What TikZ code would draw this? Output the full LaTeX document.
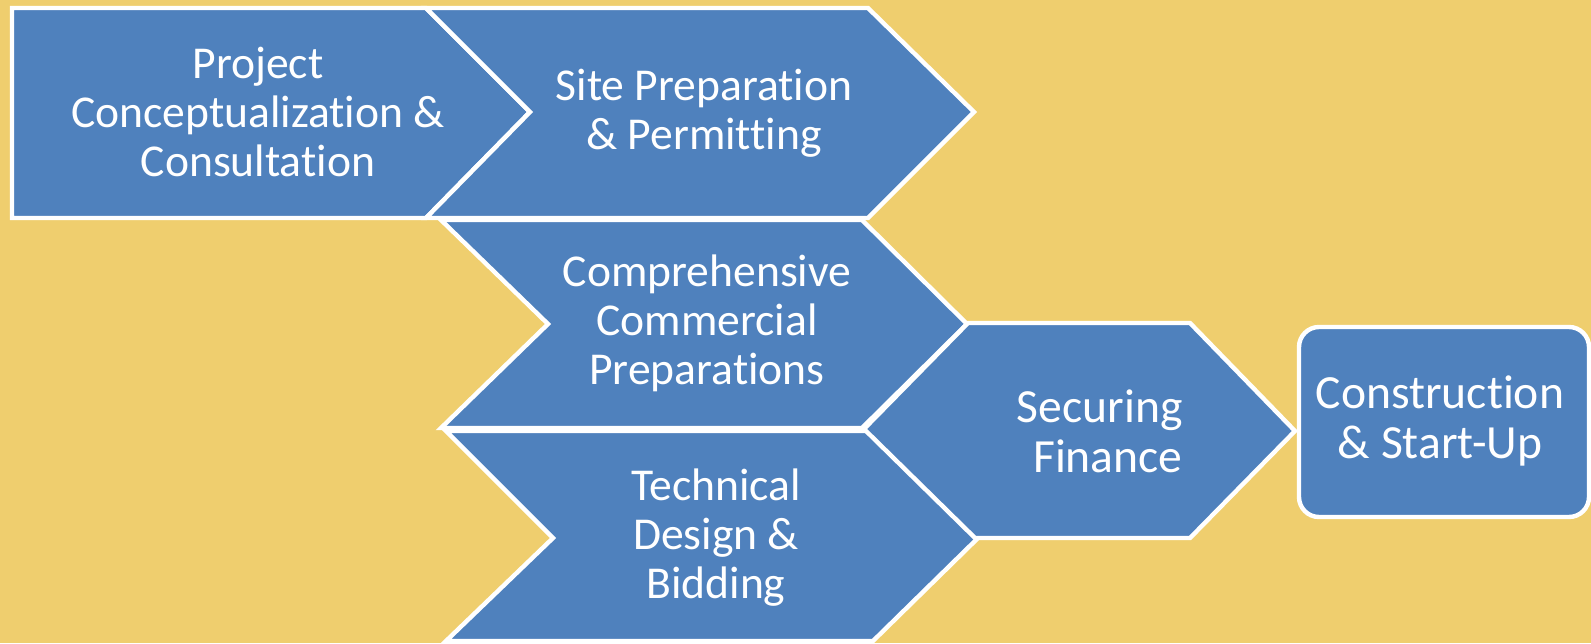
\documentclass[tikz,border=0pt]{standalone}
\usepackage{fontspec}
\setmainfont[Ligatures={NoCommon}]{Carlito}
\definecolor{bg}{RGB}{239,206,110}
\definecolor{blu}{RGB}{79,129,189}
\begin{document}
\begin{tikzpicture}[x=0.5pt,y=-0.5pt,
  shp/.style={fill=blu,draw=white,line width=2.2pt,line join=miter},
  lbl/.style={text=white,align=center,inner sep=0pt,font=\fontsize{22.8}{24.5}\selectfont},
  lblb/.style={lbl,font=\fontsize{23.8}{25}\selectfont}]
\fill[bg] (0,0) rectangle (1591,643);
\useasboundingbox (0,0) rectangle (1591,643);
% 1
\draw[shp] (12,8) -- (426,8) -- (530,112) -- (426,218) -- (12,218) -- cycle;
\node[lbl] (n1) at (258,112) {Project\\Conceptualization \&\\Consultation};
% 2
\draw[shp] (426,8) -- (868,8) -- (974,112) -- (868,218) -- (426,218) -- (530,112) -- cycle;
\node[lbl] (n2) at (704,113) {Site Preparation\\\& Permitting};
% 3
\draw[shp] (441,220) -- (862,220) -- (967,324) -- (862,428) -- (441,428) -- (548,324) -- cycle;
\node[lbl] (n3) at (707,323) {Comprehensive\\Commercial\\Preparations};
% 4
\draw[shp] (446,431) -- (873,431) -- (978,538) -- (873,641) -- (446,641) -- (553,538) -- cycle;
\node[lbl] (n4) at (716,538) {Technical\\Design \&\\Bidding};
% 5
\draw[shp] (864,429) -- (968,323) -- (1190,323) -- (1295,431) -- (1190,538) -- (975,538) -- cycle;
\node[lblb,align=right,anchor=east] (n5) at (1183,431) {Securing\\Finance};
% 6
\draw[shp,rounded corners=10pt] (1299,327) rectangle (1589,517);
\node[lblb] (n6) at (1440,421) {Construction\\\& Start-Up};
\end{tikzpicture}
\end{document}
